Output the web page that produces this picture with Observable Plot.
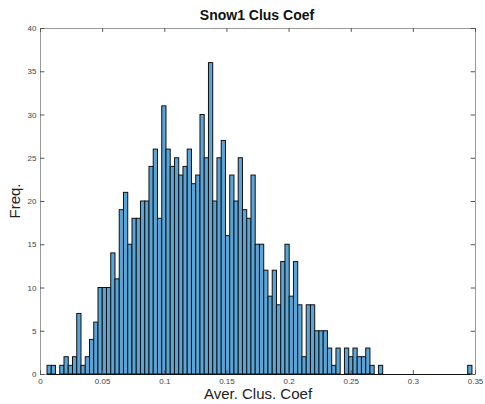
<!DOCTYPE html>
<html><head><meta charset="utf-8">
<script src="https://cdn.jsdelivr.net/npm/d3@7"></script>
<script src="https://cdn.jsdelivr.net/npm/@observablehq/plot@0.6"></script>
<style>body{margin:0;background:#fff;font-family:"Liberation Sans",Arial,sans-serif}</style>
</head><body><div id="chart"></div>
<script>
const title = "Snow1 Clus Coef";
const xLabel = "Aver. Clus. Coef";
const yLabel = "Freq.";
const binStart = 0.00563;
const binWidth = 0.003419;
const counts = [1,1,0,1,2,1,2,7,1,2,4,6,10,10,10,14,11,19,21,15,18,18,20,20,24,26,18,31,26,24,25,23,24,26,22,23,30,25,36,20,25,27,16,23,20,25,19,18,23,15,15,12,9,12,8,13,15,9,13,8,2,8,8,5,5,5,3,1,3,0,3,2,3,2,2,3,1,0,1,0,0,0,0,0,0,0,0,0,0,0,0,0,0,0,0,0,0,0,0,1];
const xTicks = [0,0.05,0.1,0.15,0.2,0.25,0.3,0.35];
const yTicks = [0,5,10,15,20,25,30,35,40];

const bins = counts.map((c,i)=>({x1: binStart + i*binWidth, x2: binStart + (i+1)*binWidth, count: c}));
const binEnd = binStart + counts.length*binWidth;

const W = 485, H = 404;
const chart = Plot.plot({
  width: W, height: H,
  marginLeft: 40, marginRight: 10, marginTop: 28, marginBottom: 30,
  style: {fontFamily: '"Liberation Sans", Arial, sans-serif', fontSize: "8px", color: "#333"},
  x: {domain: [0, 0.35]},
  y: {domain: [0, 40]},
  marks: [
    Plot.frame({stroke: "#999", strokeWidth: 1}),
    Plot.rectY(bins, {x1: "x1", x2: "x2", y: "count", fill: "#5aa5d8", stroke: "#111", strokeWidth: 1, inset: 0}),
    Plot.ruleY([0], {x1: binStart, x2: binEnd, stroke: "#111", strokeWidth: 1}),
    Plot.axisX(xTicks, {anchor: "bottom", tickSize: 0, tickPadding: 4, label: null, tickFormat: d => String(d), fill: "#444"}),
    Plot.axisY(yTicks, {anchor: "left", tickSize: 0, tickPadding: 4, label: null, fill: "#444"}),
    Plot.ruleX(xTicks, {x: d => d, y1: 0, y2: 0.45, stroke: "#555"}),
    Plot.ruleX(xTicks, {x: d => d, y1: 40, y2: 39.55, stroke: "#555"}),
    Plot.ruleY(yTicks, {y: d => d, x1: 0, x2: 0.0035, stroke: "#555"}),
    Plot.ruleY(yTicks, {y: d => d, x1: 0.35, x2: 0.3465, stroke: "#555"})
  ]
});
document.getElementById("chart").appendChild(chart);
const svg = d3.select(chart);
svg.append("text").attr("x", 257).attr("y", 20).attr("text-anchor", "middle")
  .attr("font-size", 14).attr("font-weight", "bold").attr("fill", "#111").text(title);
svg.append("text").attr("x", 258).attr("y", 399).attr("text-anchor", "middle")
  .attr("font-size", 15).attr("fill", "#222").text(xLabel);
svg.append("text").attr("transform", "translate(20,201) rotate(-90)").attr("text-anchor", "middle")
  .attr("font-size", 15).attr("fill", "#222").text(yLabel);
</script></body></html>
